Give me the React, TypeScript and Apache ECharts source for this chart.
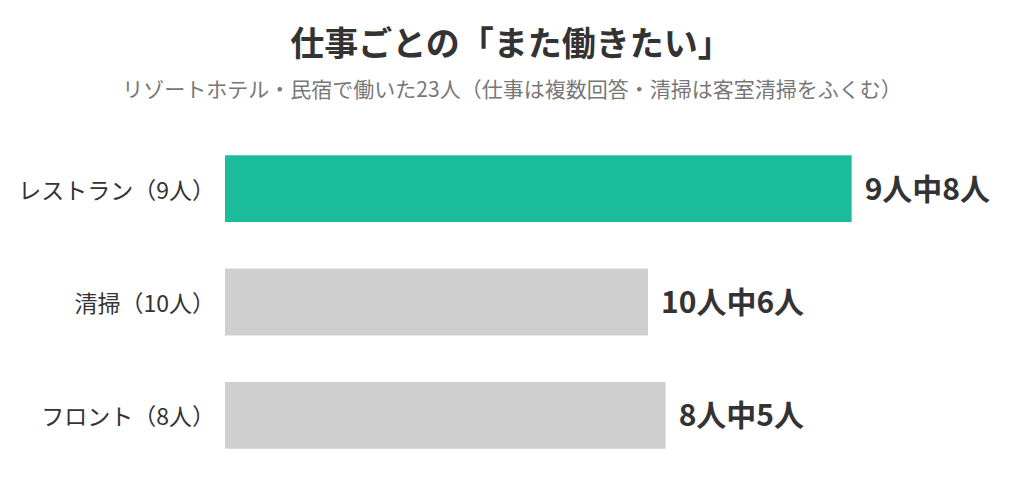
import React, { useRef, useEffect } from "react";
import * as echarts from "echarts";

const categories = ["レストラン（9人）", "清掃（10人）", "フロント（8人）"];
const totals = [9, 10, 8];
const wantAgain = [8, 6, 5];
const barColors = ["#1abc9c", "#cfcfcf", "#cfcfcf"];

const FONT = "'Noto Sans CJK JP', 'Noto Sans', sans-serif";

const App = function () {
  const chart = useRef<HTMLDivElement>(null);
  useEffect(() => {
    if (!chart.current) return;
    const myChart = echarts.init(chart.current, null, { renderer: "svg" });
    const option = {
      animation: false,
      backgroundColor: "#fff",
      title: [
        {
          text: "仕事ごとの「また働きたい」",
          left: 506,
          top: 19,
          textAlign: "center",
          textStyle: {
            fontFamily: FONT,
            fontSize: 34,
            fontWeight: "bold",
            color: "#333",
          },
        },
        {
          text: "リゾートホテル・民宿で働いた23人（仕事は複数回答・清掃は客室清掃をふくむ）",
          left: 507,
          top: 72,
          textAlign: "center",
          textStyle: {
            fontFamily: FONT,
            fontSize: 21,
            fontWeight: "normal",
            color: "#777",
          },
        },
      ],
      grid: {
        left: 225,
        right: 94,
        top: 132,
        bottom: 8,
        containLabel: false,
      },
      xAxis: {
        type: "value",
        min: 0,
        max: 1,
        show: false,
      },
      yAxis: {
        type: "category",
        data: categories,
        inverse: true,
        axisLine: { show: false },
        axisTick: { show: false },
        axisLabel: {
          margin: 10,
          fontFamily: FONT,
          fontSize: 23,
          color: "#333",
        },
      },
      series: [
        {
          type: "bar",
          barCategoryGap: "41%",
          data: wantAgain.map((v, i) => ({
            value: v / totals[i],
            itemStyle: { color: barColors[i] },
          })),
          label: {
            show: true,
            position: "right",
            distance: 13,
            fontFamily: FONT,
            fontSize: 30,
            fontWeight: "bold",
            color: "#333",
            offset: [0, -2],
            formatter: (p: any) =>
              `${totals[p.dataIndex]}人中${wantAgain[p.dataIndex]}人`,
          },
        },
      ],
    };
    myChart.setOption(option);
    return () => {
      myChart.dispose();
    };
  }, []);
  return (
    <div
      ref={chart}
      style={{ position: "fixed", left: 0, top: 0, width: 1024, height: 480 }}
    ></div>
  );
};
export default App;
